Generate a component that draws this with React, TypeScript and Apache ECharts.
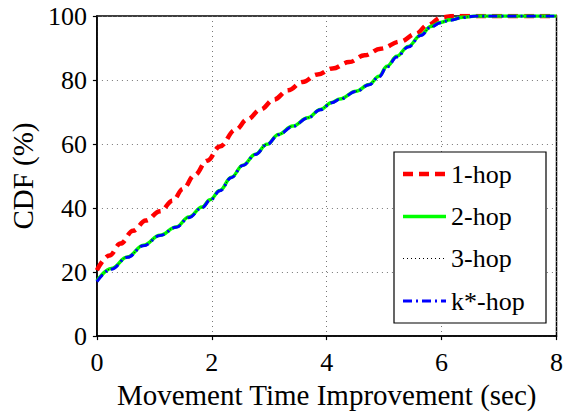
import React, { useEffect, useRef } from "react";
import * as echarts from "echarts";

// CDF of movement time improvement (sec), in percent
const oneHop: [number, number][] = [
  [0, 20.6], [0.22, 25.2], [0.41, 28.9], [0.63, 32.9], [0.85, 36.1], [1.1, 39], [1.32, 42.3],
  [1.5, 46], [1.7, 50.3], [1.92, 54.8], [2.14, 59.2], [2.41, 64.4], [2.62, 67.7], [2.85, 70.8],
  [3.08, 73.9], [3.33, 76.8], [3.58, 79.4], [3.84, 81.7], [4.1, 83.6], [4.39, 85.6], [4.66, 87.7],
  [4.94, 89.8], [5.28, 92], [5.55, 94.4], [5.76, 97.2], [6.0, 99.6], [6.2, 100], [8, 100],
];

const twoHop: [number, number][] = [
  [0, 17.2], [0.25, 21.1], [0.53, 24.7], [0.81, 28.4], [1.1, 31.5], [1.38, 34.1], [1.6, 37.2],
  [1.83, 40.3], [1.97, 42.6], [2.14, 45.5], [2.34, 49.6], [2.54, 53.4], [2.76, 56.8], [2.96, 59.9],
  [3.16, 63], [3.41, 65.6], [3.67, 68.2], [3.89, 70.8], [4.09, 73], [4.23, 74.1], [4.51, 76.5],
  [4.74, 78.6], [4.91, 81.2], [5.05, 84.3], [5.22, 87.4], [5.42, 90.5], [5.64, 94.1], [5.81, 96.7],
  [5.98, 98], [6.15, 98.8], [6.37, 99.6], [6.6, 100], [8, 100],
];

const threeHop: [number, number][] = [
  [0, 17.1], [0.25, 21.0], [0.53, 24.7], [0.81, 28.3], [1.1, 31.5], [1.38, 34.1], [1.6, 37.1],
  [1.83, 40.2], [1.97, 42.5], [2.14, 45.4], [2.34, 49.5], [2.54, 53.3], [2.76, 56.8], [2.96, 59.9],
  [3.16, 63], [3.41, 65.6], [3.67, 68.2], [3.89, 70.8], [4.09, 73], [4.23, 74.1], [4.51, 76.5],
  [4.74, 78.6], [4.91, 81.1], [5.05, 84.2], [5.22, 87.3], [5.42, 90.4], [5.64, 94.0], [5.81, 96.6],
  [5.98, 98], [6.15, 98.8], [6.37, 99.6], [6.6, 100], [8, 100],
];

const kStarHop: [number, number][] = [
  [0, 17.0], [0.25, 20.9], [0.53, 24.6], [0.81, 28.2], [1.1, 31.4], [1.38, 34.0], [1.6, 37.0],
  [1.83, 40.1], [1.97, 42.4], [2.14, 45.4], [2.34, 49.5], [2.54, 53.3], [2.76, 56.7], [2.96, 59.8],
  [3.16, 62.9], [3.41, 65.5], [3.67, 68.1], [3.89, 70.7], [4.09, 72.9], [4.23, 74.0], [4.51, 76.4],
  [4.74, 78.5], [4.91, 81.0], [5.05, 84.1], [5.22, 87.2], [5.42, 90.3], [5.64, 93.9], [5.81, 96.5],
  [5.98, 97.9], [6.15, 98.7], [6.37, 99.5], [6.6, 100], [8, 100],
];

const xTicks = { min: 0, max: 8, interval: 2 };
const yTicks = { min: 0, max: 100, interval: 20 };
const seriesNames = ["1-hop", "2-hop", "3-hop", "k*-hop"];

const FONT = "serif";

// line looks shared by the series and their legend keys
const styles = [
  { color: "#ff0000", width: 4.5, type: [10, 6] as any },
  { color: "#00ff00", width: 3.5, type: "solid" as any },
  { color: "#000000", width: 1, type: [1, 3] as any },
  { color: "#0000ff", width: 3, type: [9, 4, 2, 4] as any },
];
const seriesData = [oneHop, twoHop, threeHop, kStarHop];

export default function App() {
  const ref = useRef<HTMLDivElement>(null);

  useEffect(() => {
    if (!ref.current) return;
    const chart = echarts.init(ref.current, null, { renderer: "svg" });

    // legend box, drawn as a framed key
    const legX = 394, legY = 152, legW = 152, legH = 171;
    const rowY = [174, 216.5, 258.5, 301];
    const legendItems: any[] = [
      {
        type: "rect",
        shape: { x: legX, y: legY, width: legW, height: legH },
        style: { fill: "#fff", stroke: "#000", lineWidth: 1.2 },
        z: 10,
      },
    ];
    seriesNames.forEach((name, i) => {
      const s = styles[i];
      legendItems.push({
        type: "line",
        shape: { x1: 403, y1: rowY[i], x2: 446, y2: rowY[i] },
        style: {
          stroke: s.color,
          lineWidth: s.width,
          lineDash: Array.isArray(s.type) ? s.type : null,
        },
        z: 11,
      });
      legendItems.push({
        type: "text",
        x: 451,
        y: rowY[i],
        style: {
          text: name,
          fill: "#000",
          fontFamily: FONT,
          fontSize: 26,
          verticalAlign: "middle",
          align: "left",
        },
        z: 11,
      });
    });

    chart.setOption({
      animation: false,
      textStyle: { fontFamily: FONT },
      grid: {
        left: 87,
        right: 7,
        top: 16,
        bottom: 76,
        show: true,
        borderColor: "#000",
        borderWidth: 1.5,
        backgroundColor: "transparent",
      },
      xAxis: {
        type: "value",
        ...xTicks,
        axisLine: { show: true, onZero: false, lineStyle: { color: "#000", width: 1.5 } },
        axisTick: { show: true, inside: false, length: 4, lineStyle: { color: "#000", width: 1.2 } },
        splitLine: { show: true, lineStyle: { color: "#777", type: [1, 4], width: 1 } },
        axisLabel: { color: "#000", fontSize: 26, fontFamily: FONT, margin: 13 },
        name: "Movement Time Improvement (sec)",
        nameLocation: "middle",
        nameGap: 40,
        nameTextStyle: { color: "#000", fontSize: 29, fontFamily: FONT },
      },
      yAxis: {
        type: "value",
        ...yTicks,
        axisLine: { show: true, onZero: false, lineStyle: { color: "#000", width: 1.5 } },
        axisTick: { show: true, inside: false, length: 4, lineStyle: { color: "#000", width: 1.2 } },
        splitLine: { show: true, lineStyle: { color: "#777", type: [1, 4], width: 1 } },
        axisLabel: { color: "#000", fontSize: 26, fontFamily: FONT, margin: 10 },
        name: "CDF (%)",
        nameLocation: "middle",
        nameGap: 59,
        nameTextStyle: { color: "#000", fontSize: 29, fontFamily: FONT },
      },
      graphic: legendItems,
      series: seriesData.map((data, i) => ({
        type: "line",
        data,
        showSymbol: false,
        symbol: "none",
        smooth: 0.4,
        smoothMonotone: "x",
        lineStyle: styles[i],
      })),
    });

    return () => chart.dispose();
  }, []);

  return <div ref={ref} style={{ width: 566, height: 414, position: "absolute", left: 0, top: 0 }} />;
}
